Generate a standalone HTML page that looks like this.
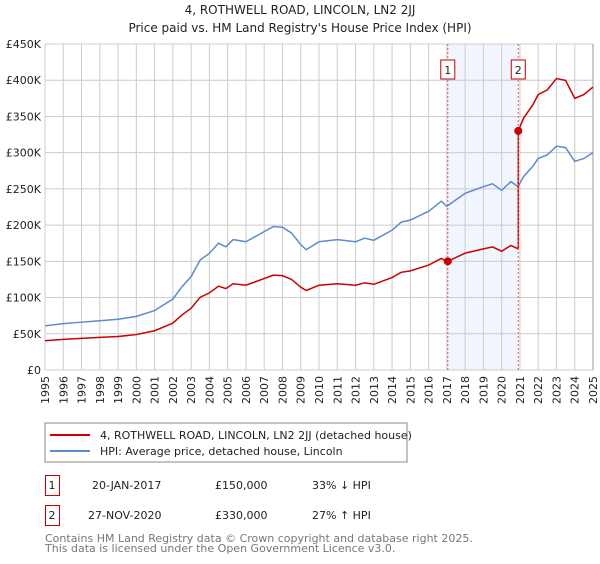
<!DOCTYPE html>
<html><head><meta charset="utf-8">
<style>
body{margin:0;background:#fff;font-family:"DejaVu Sans","Liberation Sans",sans-serif;}
svg text{font-family:"DejaVu Sans","Liberation Sans",sans-serif;}
</style></head>
<body>
<svg width="600" height="560" xmlns="http://www.w3.org/2000/svg" id="chart">
<text x="300" y="14" text-anchor="middle" font-size="12" fill="#222">4, ROTHWELL ROAD, LINCOLN, LN2 2JJ</text>
<text x="300" y="32" text-anchor="middle" font-size="12" fill="#222">Price paid vs. HM Land Registry's House Price Index (HPI)</text>
<g id="grid"></g>
<g id="axes"></g>
<g id="series"></g>
<rect x="45" y="423" width="362" height="39" fill="#fff" stroke="#888"/>
<line x1="50" y1="435" x2="90" y2="435" stroke="#cc0000" stroke-width="2"/>
<text x="100" y="439" font-size="11" fill="#222">4, ROTHWELL ROAD, LINCOLN, LN2 2JJ (detached house)</text>
<line x1="50" y1="451" x2="90" y2="451" stroke="#5b8bd0" stroke-width="2"/>
<text x="100" y="455" font-size="11" fill="#222">HPI: Average price, detached house, Lincoln</text>
<g>
<rect x="45.5" y="475.5" width="14" height="20" fill="#fff" stroke="#cc0000"/>
<text x="52" y="489" text-anchor="middle" font-size="11" fill="#222">1</text>
<text x="92" y="489" font-size="11" fill="#222">20-JAN-2017</text>
<text x="215" y="489" font-size="11" fill="#222">£150,000</text>
<text x="312" y="489" font-size="11" fill="#222">33% ↓ HPI</text>
</g>
<g>
<rect x="45.5" y="505.5" width="14" height="20" fill="#fff" stroke="#cc0000"/>
<text x="52" y="519" text-anchor="middle" font-size="11" fill="#222">2</text>
<text x="88" y="519" font-size="11" fill="#222">27-NOV-2020</text>
<text x="215" y="519" font-size="11" fill="#222">£330,000</text>
<text x="312" y="519" font-size="11" fill="#222">27% ↑ HPI</text>
</g>
<text x="45" y="542" font-size="11" fill="#777">Contains HM Land Registry data © Crown copyright and database right 2025.</text>
<text x="45" y="552" font-size="11" fill="#777">This data is licensed under the Open Government Licence v3.0.</text>
</svg>
<script>
const years=[1995,1996,1997,1998,1999,2000,2001,2002,2003,2004,2005,2006,2007,2008,2009,2010,2011,2012,2013,2014,2015,2016,2017,2018,2019,2020,2021,2022,2023,2024,2025];
const yTicks=[0,50000,100000,150000,200000,250000,300000,350000,400000,450000];
const yTickLabels=["£0","£50K","£100K","£150K","£200K","£250K","£300K","£350K","£400K","£450K"];
const hpiDates=[1995,1996,1997,1998,1999,2000,2001,2001.5,2002,2002.5,2003,2003.5,2004,2004.5,2004.9,2005.3,2006,2006.5,2007,2007.5,2008,2008.5,2009,2009.3,2010,2011,2012,2012.5,2013,2014,2014.5,2015,2016,2016.7,2017,2018,2019,2019.5,2020,2020.5,2020.9,2021.2,2021.7,2022,2022.5,2023,2023.5,2024,2024.5,2025];
const hpiValues=[61000,64000,66000,68000,70000,74000,82000,90000,98000,115000,129000,152000,161000,175000,170000,180000,177000,184000,191000,198000,197000,189000,173000,166000,177000,180000,177000,182000,179000,193000,204000,207000,219000,233000,226000,244000,253000,257000,248000,260000,253000,267000,281000,292000,297000,309000,307000,288000,292000,300000];
const saleDates=[2017.05,2020.91];
const salePrices=[150000,330000];
const saleLabels=["1","2"];

const NS="http://www.w3.org/2000/svg";
const X0=45,X1=593,Y0=370,Y1=44;
const xs=t=>X0+(t-1995)/(2025-1995)*(X1-X0);
const ys=v=>Y0-v/450000*(Y0-Y1);
function mk(tag,attrs,parent){const e=document.createElementNS(NS,tag);for(const k in attrs)e.setAttribute(k,attrs[k]);parent.appendChild(e);return e;}
function hpiAt(t){for(let i=0;i<hpiDates.length-1;i++){if(t>=hpiDates[i]&&t<=hpiDates[i+1]){const f=(t-hpiDates[i])/(hpiDates[i+1]-hpiDates[i]);return hpiValues[i]+f*(hpiValues[i+1]-hpiValues[i]);}}return hpiValues[hpiValues.length-1];}
const grid=document.getElementById('grid'),axes=document.getElementById('axes'),series=document.getElementById('series');
// shaded band
const band=mk('rect',{x:xs(saleDates[0]),y:Y1,width:xs(saleDates[1])-xs(saleDates[0]),height:Y0-Y1,fill:'#eef3fc',opacity:0.8},grid);


years.forEach(y=>{const l=mk('line',{x1:xs(y),x2:xs(y),y1:Y1,y2:Y0,stroke:'#ccc'},grid);


const t=mk('text',{x:0,y:0,'font-size':11,fill:'#222','text-anchor':'end',transform:`translate(${xs(y)+4},${Y0+6}) rotate(-90)`},axes);t.textContent=y;

});
yTicks.forEach((v,i)=>{const l=mk('line',{x1:X0,x2:X1,y1:ys(v),y2:ys(v),stroke:'#ccc'},grid);


const t=mk('text',{x:X0-4,y:ys(v)+4,'font-size':11,fill:'#222','text-anchor':'end'},axes);t.textContent=yTickLabels[i];

});
mk('line',{x1:X0,x2:X0,y1:Y1,y2:Y0,stroke:'#ccc'},grid);
mk('line',{x1:X1,x2:X1,y1:Y1,y2:Y0,stroke:'#999'},grid);
// hpi line
const hp=mk('polyline',{points:hpiDates.map((d,i)=>xs(d)+','+ys(hpiValues[i])).join(' '),fill:'none',stroke:'#5b8bd0','stroke-width':1.5},series);


// property line: HPI scaled by sale ratio
const r0=salePrices[0]/hpiAt(saleDates[0]),r1=salePrices[1]/hpiAt(saleDates[1]);
const pts=[];
hpiDates.forEach((d,i)=>{if(d<saleDates[1])pts.push(xs(d)+','+ys(hpiValues[i]*r0));});
pts.push(xs(saleDates[1])+','+ys(hpiAt(saleDates[1])*r0));
pts.push(xs(saleDates[1])+','+ys(salePrices[1]));
hpiDates.forEach((d,i)=>{if(d>saleDates[1])pts.push(xs(d)+','+ys(hpiValues[i]*r1));});
const pl=mk('polyline',{points:pts.join(' '),fill:'none',stroke:'#cc0000','stroke-width':1.5},series);


saleDates.forEach((d,i)=>{
const vl=mk('line',{x1:xs(d),x2:xs(d),y1:Y1,y2:Y0,stroke:'#e55','stroke-dasharray':'2,2','stroke-width':1},series);


const c=mk('circle',{cx:xs(d),cy:ys(salePrices[i]),r:4,fill:'#cc0000'},series);


const b=mk('rect',{x:xs(d)-7,y:60,width:14,height:19,fill:'#fff',stroke:'#cc0000'},series);


const t=mk('text',{x:xs(d),y:74,'text-anchor':'middle','font-size':11,fill:'#222'},series);t.textContent=saleLabels[i];


});
</script>
</body></html>
